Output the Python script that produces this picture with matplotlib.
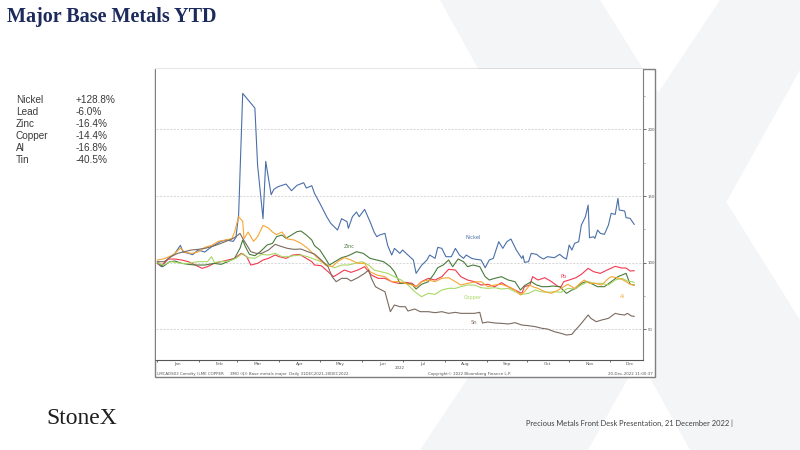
import matplotlib
matplotlib.use("Agg")
import matplotlib.pyplot as plt
import matplotlib.dates as mdates
from matplotlib.patches import Rectangle, Polygon
import pandas as pd

# values (index, 31 Dec 2021 = 100), x = day of 2022
nickel_days = [0, 3, 8, 13, 17, 19, 23, 26, 30, 35, 40, 47, 51, 56, 58, 60, 63, 72, 74, 78,
               80, 84, 86, 89, 95, 99, 103, 108, 110, 114, 116, 120, 125, 128, 133, 136, 140,
               141, 144, 147, 149, 153, 157, 160, 162, 164, 168, 170, 173, 175, 179, 181, 185,
               189, 191, 195, 199, 201, 205, 207, 210, 213, 217, 220, 223, 226, 228, 232, 234,
               239, 242, 245, 248, 252, 255, 258, 261, 265, 269, 270, 271, 274, 276, 280, 282,
               285, 288, 293, 297, 300, 302, 304, 306, 308, 311, 313, 316, 318, 319, 322, 323,
               325, 327, 330, 333, 335, 338, 340, 341, 345, 346, 349, 352]
nickel = [99.5, 97, 103, 107, 113, 108, 107, 106, 109.5, 108, 112, 116, 117, 116, 119, 136, 227,
          216, 173, 133, 176, 151, 155, 157, 159, 154, 158, 160, 156, 157.75, 152, 144.5, 134.5,
          129.5, 124.5, 133, 130.75, 125.75, 134.5, 138, 134.5, 140, 130.75, 123, 119.5, 120.75,
          122, 113, 105.75, 110.75, 107, 109.5, 105.75, 102, 92, 98, 102, 105.75, 103.25, 111.5,
          110.75, 104.5, 104.5, 110.75, 105.75, 103.25, 105.75, 103.25, 102.75, 102, 96.25, 102,
          103.25, 115.75, 110.75, 115.75, 117.75, 109.5, 103.25, 105.25, 100.25, 100.75, 107,
          106.25, 104.5, 102.75, 104.5, 103.75, 106.25, 103.75, 102.75, 113.25, 109.5, 114.5,
          115.75, 128.25, 134.5, 143.25, 118.75, 119.5, 118.25, 124.5, 122, 121.25, 128.25, 137,
          136.25, 148.25, 139.5, 138.75, 133.75, 133.25, 128.75]

lead_days = [0, 3, 8, 13, 18, 23, 28, 33, 37, 42, 47, 52, 57, 62, 66, 69, 74, 78, 82, 87, 90,
             95, 100, 105, 110, 114, 116, 121, 126, 130, 133, 138, 143, 148, 153, 158, 163, 168,
             173, 178, 183, 188, 191, 195, 200, 205, 210, 215, 220, 224, 229, 234, 239, 244, 249,
             254, 259, 264, 269, 271, 275, 277, 281, 286, 291, 296, 298, 300, 304, 309, 313, 318,
             322, 327, 332, 338, 343, 346, 349, 352]
lead = [99.5, 98, 102.75, 102.75, 102, 100.75, 98.25, 95.75, 97, 99.5, 100.75, 102, 103.25, 107,
        104.5, 98.25, 99.5, 102, 103.25, 105.75, 104.5, 103.25, 105.75, 106.25, 103.25, 100.75,
        98.25, 97.75, 93.25, 89.5, 91.25, 94.5, 92.75, 94.5, 97, 90.75, 88.25, 88.25, 85.75, 84.5,
        85.25, 84.5, 82, 85.75, 88.25, 87, 89.5, 95, 94.5, 89.5, 87, 85.75, 83.25, 83.75, 82, 85,
        82, 79.5, 77, 82, 83.25, 89.5, 87, 88.75, 85.75, 82, 82, 85.75, 87, 88.75, 91.25, 95.75,
        93.25, 92, 94.5, 97.25, 96, 96, 93.75, 94]

zinc_days = [0, 4, 9, 13, 18, 23, 28, 35, 42, 47, 52, 57, 61, 63, 65, 68, 72, 76, 81, 85, 88, 92,
             95, 99, 103, 106, 110, 114, 116, 120, 124, 127, 131, 136, 141, 147, 152, 157, 162,
             167, 172, 175, 179, 184, 188, 191, 195, 200, 204, 207, 211, 215, 218, 222, 226, 229,
             233, 238, 242, 245, 249, 254, 259, 264, 268, 271, 276, 280, 284, 288, 292, 297, 302,
             306, 309, 313, 317, 320, 325, 330, 335, 340, 346, 349, 352]
zinc = [100.75, 97, 100.75, 101.25, 99.5, 98.75, 98.25, 98.25, 99.5, 98.75, 100.75, 103.25,
        110.75, 117, 112, 106.25, 105.25, 108.25, 113.25, 114.5, 119.5, 120.75, 118.25, 120.75,
        123.25, 123.75, 120.75, 117, 112.75, 109.5, 103.25, 98.25, 100.75, 103.75, 105.25,
        108.25, 107, 103.25, 102, 100.75, 97, 93.25, 84.5, 84.5, 83.75, 80.25, 83.75, 85.75,
        91.25, 96.25, 98.25, 102, 97, 102.75, 100.75, 97, 98.25, 97, 89.5, 87, 88.25, 89.5, 87,
        85.75, 79.5, 82.75, 85.75, 83.25, 82, 82, 82.5, 82, 77, 79.5, 80.75, 84.5, 86, 84.5, 82,
        82, 85.75, 89.5, 92, 83.75, 83.25]

copper_days = [0, 4, 10, 18, 23, 30, 37, 40, 42, 47, 53, 58, 63, 67, 72, 77, 82, 87, 92, 96,
               101, 106, 111, 116, 121, 126, 131, 136, 141, 146, 151, 156, 160, 165, 170, 175,
               180, 185, 190, 195, 200, 205, 210, 215, 220, 224, 229, 234, 239, 244, 249, 254,
               259, 264, 269, 274, 279, 283, 288, 293, 298, 303, 308, 313, 318, 323, 328, 333,
               338, 343, 347, 350, 352]
copper = [100, 98.25, 100.75, 99.5, 99.5, 100.75, 100.75, 104.5, 100.25, 100.75, 101.25, 103.25,
          107, 103.75, 103.25, 106.25, 105.75, 107, 104.5, 104.5, 105.25, 105.75, 104.5, 102.5,
          100.75, 98.25, 96.25, 98.25, 98.25, 99.5, 100.75, 98.25, 94.5, 93.25, 92, 89.5, 87,
          83.25, 78.25, 74.5, 77, 76.25, 79.5, 80.75, 80.75, 82, 83.25, 83.25, 81.25, 80.75,
          81.25, 80.25, 80.75, 78.25, 76.25, 77, 79.5, 78.25, 77.75, 78.25, 77.75, 80.75, 80.25,
          83.25, 85.75, 84.5, 84.5, 83.25, 87, 88.25, 86.25, 85.75, 85.25]

al_days = [0, 5, 12, 17, 20, 25, 30, 35, 40, 45, 50, 55, 57, 60, 63, 64, 67, 71, 74, 78, 82, 85,
           88, 92, 96, 101, 106, 111, 116, 120, 124, 129, 133, 138, 143, 148, 153, 157, 162, 168,
           173, 178, 183, 188, 191, 195, 200, 205, 210, 215, 220, 224, 229, 234, 239, 244, 249,
           254, 259, 264, 268, 271, 275, 277, 281, 286, 291, 296, 300, 303, 308, 312, 315, 319,
           323, 328, 333, 335, 339, 343, 346, 349, 352]
al = [102, 103, 106, 111, 108, 107, 108, 111.5, 113, 116, 117, 118, 123, 134.5, 131, 118, 123,
      116, 119.5, 128, 126, 123, 121, 123, 117.75, 117, 114.5, 110.75, 105.75, 102, 98.25, 97,
      100.75, 103.75, 102, 99.5, 99.5, 93.25, 90.75, 89.5, 85.75, 85.75, 84.5, 83.25, 82, 85.75,
      87, 85.75, 88.25, 88.75, 85.75, 83.25, 84.5, 85.5, 85.75, 82, 83.25, 83.75, 82, 79.5, 75.75,
      78.25, 83.25, 82, 80.75, 78.25, 77, 79.5, 82, 83.75, 80.75, 84.5, 87, 84.5, 84.5, 83.25,
      88.25, 89.5, 88.75, 87.5, 85.75, 83.75, 83.25]

tin_days = [0, 5, 10, 15, 20, 25, 30, 35, 40, 45, 50, 55, 58, 61, 63, 66, 69, 73, 77, 82, 87, 92,
            96, 101, 106, 111, 116, 121, 126, 129, 132, 136, 140, 143, 148, 153, 156, 158, 161,
            164, 168, 172, 175, 179, 183, 185, 190, 194, 200, 205, 210, 215, 220, 224, 229, 234,
            238, 240, 244, 249, 254, 259, 264, 269, 274, 279, 284, 288, 293, 298, 302, 306, 308,
            312, 315, 318, 320, 324, 328, 333, 338, 341, 345, 347, 350, 352]
tin = [100.75, 100.75, 104.5, 107, 108.25, 109.5, 110, 110.75, 112, 113.75, 115.75, 117.75, 119.5,
       122, 118.25, 113.25, 108.25, 107, 107, 109.5, 113.75, 112, 110.75, 110, 110.25, 108.25,
       106.5, 102, 97, 89.5, 85.75, 88.25, 88.25, 86.25, 88.75, 92, 94.5, 88.25, 82, 80.25, 78.25,
       63.25, 68.25, 67, 67, 63.75, 65.25, 63.25, 63.25, 62.5, 63.25, 62, 62.75, 62, 62, 62,
       62.75, 54.75, 55.5, 54.75, 54.5, 54, 55, 53.25, 52.75, 52, 50.75, 50.25, 48.25, 47, 45.75,
       46.25, 48.75, 53.25, 57, 60.75, 58.25, 55.75, 57, 58.25, 62, 61.25, 60.75, 62, 60, 59.75]

series = [
    ("Nickel", nickel_days, nickel, "#4a6fa8", 233, 119),
    ("Pb", lead_days, lead, "#f2384f", 300, 90),
    ("Zinc", zinc_days, zinc, "#4a7a3c", 142, 112),
    ("Copper", copper_days, copper, "#a9d866", 233, 74),
    ("Al", al_days, al, "#f7a633", 343, 75),
    ("Sn", tin_days, tin, "#7b6a60", 234, 55.5),
]

summary_names = ["Nickel", "Lead", "Zinc", "Copper", "Al", "Tin"]
summary_changes = ["+128.8%", "-6.0%", "-16.4%", "-14.4%", "-16.8%", "-40.5%"]

start = pd.Timestamp("2022-01-01")


def to_dates(days):
    return start + pd.to_timedelta(days, unit="D")


W, H = 800, 450
fig = plt.figure(figsize=(8, 4.5), dpi=100)
fig.patch.set_facecolor("white")


def fx(px):
    return px / W


def fy(py):
    return 1 - py / H


# faint StoneX "X" watermark
wm = "#f4f5f7"
fig.patches.append(Polygon([(fx(440), fy(0)), (fx(600), fy(0)), (fx(800), fy(320)),
                            (fx(800), fy(450)), (fx(690), fy(450))],
                           closed=True, transform=fig.transFigure, facecolor=wm,
                           edgecolor="none", zorder=0))
fig.patches.append(Polygon([(fx(720), fy(0)), (fx(800), fy(0)), (fx(800), fy(70)),
                            (fx(588), fy(450)), (fx(420), fy(450))],
                           closed=True, transform=fig.transFigure, facecolor=wm,
                           edgecolor="none", zorder=0))

# chart frame
fig.patches.append(Rectangle((fx(155), fy(377)), fx(655) - fx(155), fy(69) - fy(377),
                             transform=fig.transFigure, facecolor="white",
                             edgecolor="#7f7f7f", linewidth=1.0, zorder=1))

ax = fig.add_axes([fx(156), fy(360), fx(643) - fx(156), fy(69) - fy(360)], zorder=2)
ax.set_facecolor("white")

for name, d, v, col, lx, ly in series:
    ax.plot(to_dates(d), v, color=col, lw=0.8)
    ax.text(start + pd.Timedelta(days=lx), ly, name, color=col, fontsize=3.6,
            ha="center", va="center")

ax.set_ylim(27.0, 245.3)
ax.set_xlim(start - pd.Timedelta(days=1), start + pd.Timedelta(days=358.5))

for g in [50, 100, 150, 200]:
    ax.axhline(g, color="#c8c8c8", lw=0.5, ls=(0, (3, 2)), zorder=0)

ax.yaxis.tick_right()
ax.set_yticks([50, 100, 150, 200])
ax.set_yticks([75, 125, 175, 225], minor=True)
ax.tick_params(axis="y", which="major", direction="out", length=2, width=0.6,
               labelsize=2.8, colors="#555555", pad=1.5)
ax.tick_params(axis="y", which="minor", direction="out", length=1.2, width=0.4,
               colors="#777777")

ax.xaxis.set_major_locator(mdates.MonthLocator())
ax.xaxis.set_major_formatter(plt.NullFormatter())
ax.xaxis.set_minor_locator(mdates.MonthLocator(bymonthday=16))
ax.xaxis.set_minor_formatter(mdates.DateFormatter("%b"))
ax.tick_params(axis="x", which="major", direction="out", length=1.5, width=0.6,
               colors="#555555")
ax.tick_params(axis="x", which="minor", length=0, labelsize=3.2, labelcolor="#555555",
               pad=1.5)

for side in ["left", "top"]:
    ax.spines[side].set_visible(False)
ax.spines["right"].set_color("#7f7f7f")
ax.spines["right"].set_linewidth(0.8)
ax.spines["bottom"].set_color("#555555")
ax.spines["bottom"].set_linewidth(0.8)

small = dict(fontsize=2.9, color="#555555", va="center", zorder=3)
fig.text(fx(400), fy(368), "2022", ha="center", **small)
fig.text(fx(157), fy(374), "LMCADS03 Comdty (LME COPPER     3MO ($)) Base metals major  "
         "Daily 31DEC2021-20DEC2022", ha="left", **small)
fig.text(fx(470), fy(374), "Copyright\u00a9 2022 Bloomberg Finance L.P.", ha="center", **small)
fig.text(fx(653), fy(374), "20-Dec-2022 11:00:37", ha="right", **small)

# title
fig.text(fx(7), fy(17), "Major Base Metals YTD", fontsize=14.5, fontweight="bold",
         family="Liberation Serif", color="#1c2a5c", va="center", ha="left")

# YTD summary
for i, (n, c) in enumerate(zip(summary_names, summary_changes)):
    y = fy(100 + 12 * i)
    fig.text(fx(16), y, n, fontsize=7.2, family="Liberation Sans", color="#3a3a3a",
             va="center")
    fig.text(fx(76), y, c, fontsize=7.2, family="Liberation Sans", color="#3a3a3a",
             va="center")

# logo and footer
fig.text(fx(46), fy(418), "StoneX", fontsize=17, family="Liberation Serif",
         color="#1e1e1e", va="center", ha="left")
fig.text(fx(733), fy(423), "Precious Metals Front Desk Presentation, 21 December 2022 |",
         fontsize=5.45, family="Lato", color="#404040", va="center", ha="right")

fig.savefig("out.png", dpi=100, facecolor="white")
